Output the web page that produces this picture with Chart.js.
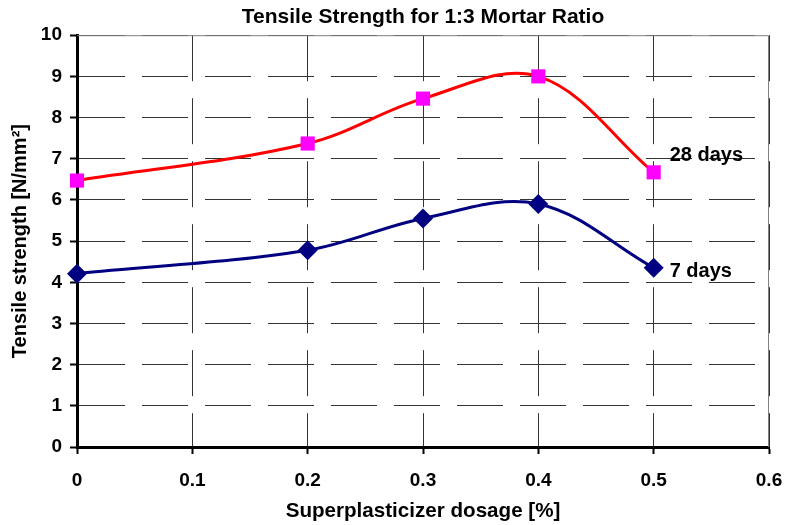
<!DOCTYPE html>
<html>
<head>
<meta charset="utf-8">
<title>Tensile Strength for 1:3 Mortar Ratio</title>
<script src="https://cdn.jsdelivr.net/npm/chart.js@4/dist/chart.umd.min.js"></script>
<style>
  html, body { margin: 0; padding: 0; background: #fff; }
  canvas { display: block; }
</style>
</head>
<body>
<canvas id="chart" width="785" height="525"></canvas>
<script>
// Superplasticizer dosage [%]
const dosage = [0, 0.2, 0.3, 0.4, 0.5];
// Tensile strength [N/mm²]
const strength28 = [6.47, 7.37, 8.46, 9.0, 6.67];
const strength7 = [4.21, 4.78, 5.55, 5.9, 4.35];
const seriesNames = ['28 days', '7 days'];
const xTickLabels = ['0', '0.1', '0.2', '0.3', '0.4', '0.5', '0.6'];
const yTickLabels = ['0', '1', '2', '3', '4', '5', '6', '7', '8', '9', '10'];

const FONT = '"Liberation Sans", Arial, sans-serif';

const toPoints = (xs, ys) => xs.map((x, i) => ({ x, y: ys[i] }));

// Solid grey frame on the top and right of the plot area
const frame = {
  id: 'frame',
  beforeDatasetsDraw(chart) {
    const { ctx, chartArea: a } = chart;
    ctx.save();
    ctx.strokeStyle = '#808080';
    ctx.lineWidth = 1;
    ctx.beginPath();
    ctx.moveTo(a.left, a.top + 0.5);
    ctx.lineTo(a.right - 0.5, a.top + 0.5);
    ctx.lineTo(a.right - 0.5, a.bottom);
    ctx.stroke();
    ctx.restore();
  }
};

// Series name written beside the last point of each curve
const endLabels = {
  id: 'endLabels',
  afterDatasetsDraw(chart) {
    const { ctx } = chart;
    const shifts = [[16, -11], [16, 9]];
    ctx.save();
    ctx.font = 'bold 20px ' + FONT;
    ctx.fillStyle = '#000';
    ctx.textAlign = 'left';
    ctx.textBaseline = 'alphabetic';
    chart.data.datasets.forEach((ds, i) => {
      const meta = chart.getDatasetMeta(i);
      const last = meta.data[meta.data.length - 1];
      ctx.fillText(ds.label, last.x + shifts[i][0], last.y + shifts[i][1]);
    });
    ctx.restore();
  }
};

new Chart(document.getElementById('chart'), {
  type: 'line',
  data: {
    datasets: [
      {
        label: seriesNames[0],
        data: toPoints(dosage, strength28),
        borderColor: '#FF0000',
        borderWidth: 3,
        backgroundColor: '#FF00FF',
        pointBackgroundColor: '#FF00FF',
        pointBorderColor: '#FF00FF',
        pointStyle: 'rect',
        pointRadius: 10,
        pointBorderWidth: 0,
        tension: 0.36,
        clip: false,
        fill: false
      },
      {
        label: seriesNames[1],
        data: toPoints(dosage, strength7),
        borderColor: '#000080',
        borderWidth: 3,
        backgroundColor: '#000080',
        pointBackgroundColor: '#000080',
        pointBorderColor: '#000080',
        pointStyle: 'rectRot',
        pointRadius: 10,
        pointBorderWidth: 0,
        tension: 0.36,
        clip: false,
        fill: false
      }
    ]
  },
  options: {
    responsive: false,
    animation: false,
    devicePixelRatio: 1,
    layout: { padding: { left: 0, right: 16, top: 0, bottom: 0 } },
    plugins: {
      legend: { display: false },
      tooltip: { enabled: false },
      title: {
        display: true,
        fullSize: false,
        text: 'Tensile Strength for 1:3 Mortar Ratio',
        color: '#000',
        font: { family: FONT, size: 21, weight: 'bold' },
        padding: { top: 5, bottom: 5 }
      }
    },
    scales: {
      x: {
        type: 'linear',
        min: 0,
        max: 0.6,
        afterFit(scale) {
          scale.height = 78;
          scale.paddingLeft = 0;
          scale.paddingRight = 0;
        },
        ticks: {
          stepSize: 0.1,
          color: '#000',
          padding: 15,
          maxRotation: 0,
          font: { family: FONT, size: 19, weight: 'bold' },
          callback: (v, i) => xTickLabels[i]
        },
        grid: {
          color: '#333',
          lineWidth: 1,
          tickLength: 7,
          tickColor: '#000',
          tickWidth: 2
        },
        border: { display: true, color: '#000', width: 3, dash: [46, 17] },
        title: {
          display: true,
          text: 'Superplasticizer dosage [%]',
          color: '#000',
          font: { family: FONT, size: 20.6, weight: 'bold' },
          padding: { top: 1, bottom: 1 }
        }
      },
      y: {
        min: 0,
        max: 10,
        afterFit(scale) {
          scale.width = 77;
          scale.paddingTop = 0;
          scale.paddingBottom = 0;
        },
        ticks: {
          stepSize: 1,
          color: '#000',
          padding: 8,
          font: { family: FONT, size: 19, weight: 'bold' },
          callback: (v, i) => yTickLabels[i]
        },
        grid: {
          color: '#333',
          lineWidth: 1,
          tickLength: 7,
          tickColor: '#000',
          tickWidth: 2
        },
        border: { display: true, color: '#000', width: 3, dash: [46, 17] },
        title: {
          display: true,
          text: 'Tensile strength [N/mm²]',
          color: '#000',
          font: { family: FONT, size: 20, weight: 'bold' },
          padding: { top: 8, bottom: 8 }
        }
      }
    }
  },
  plugins: [frame, endLabels]
});
</script>
</body>
</html>
